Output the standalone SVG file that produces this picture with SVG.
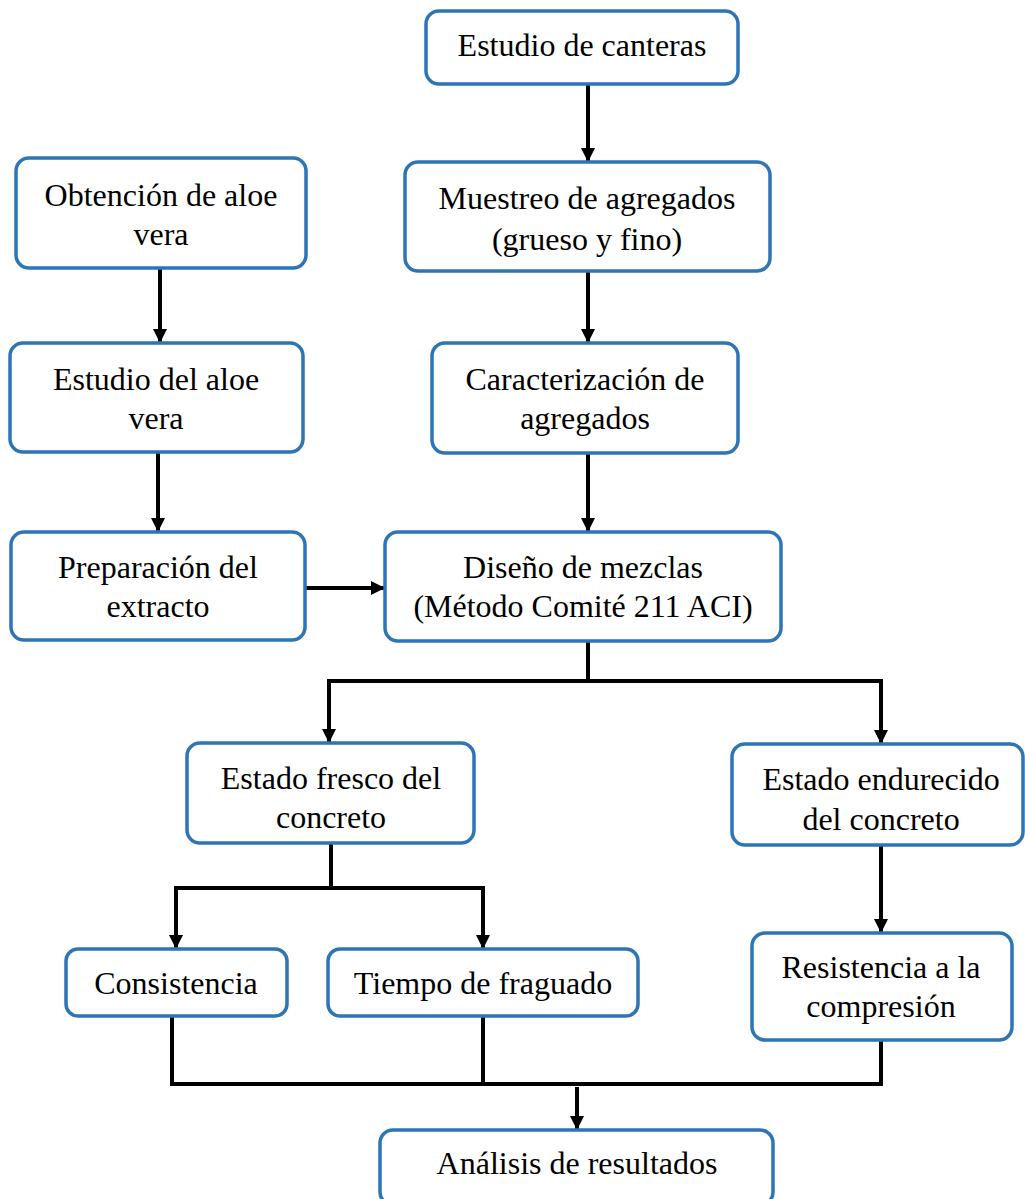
<svg xmlns="http://www.w3.org/2000/svg" width="1025" height="1199" viewBox="0 0 1025 1199">
<style>
.box{fill:#fff;stroke:#2E75B6;stroke-width:3.5}
.t{font-family:"Liberation Serif","Times New Roman",serif;font-size:32px;fill:#000;text-anchor:middle}
.c{fill:none;stroke:#000;stroke-width:4}
</style>
<defs>
<marker id="ah" markerWidth="14" markerHeight="14" refX="13" refY="7" orient="auto" markerUnits="userSpaceOnUse">
<path d="M0,0 L14,7 L0,14 Z" fill="#000"/>
</marker>
</defs>
<rect width="1025" height="1199" fill="#fff"/>
<g id="connectors">
<line class="c" x1="588" y1="84" x2="588" y2="161" marker-end="url(#ah)"/>
<line class="c" x1="588" y1="271" x2="588" y2="342" marker-end="url(#ah)"/>
<line class="c" x1="588" y1="453" x2="588" y2="531" marker-end="url(#ah)"/>
<line class="c" x1="160" y1="268" x2="160" y2="342" marker-end="url(#ah)"/>
<line class="c" x1="158" y1="452" x2="158" y2="531" marker-end="url(#ah)"/>
<line class="c" x1="305" y1="588" x2="384" y2="588" marker-end="url(#ah)"/>
<line class="c" x1="588" y1="641" x2="588" y2="681"/>
<polyline class="c" points="329,742 329,681 881,681 881,743" />
<line class="c" x1="329" y1="700" x2="329" y2="742" marker-end="url(#ah)"/>
<line class="c" x1="881" y1="700" x2="881" y2="743" marker-end="url(#ah)"/>
<line class="c" x1="331" y1="843" x2="331" y2="888"/>
<polyline class="c" points="176,948 176,888 483,888 483,948"/>
<line class="c" x1="176" y1="910" x2="176" y2="948" marker-end="url(#ah)"/>
<line class="c" x1="483" y1="910" x2="483" y2="948" marker-end="url(#ah)"/>
<line class="c" x1="881" y1="846" x2="881" y2="932" marker-end="url(#ah)"/>
<polyline class="c" points="172,1016 172,1084 881,1084 881,1040"/>
<line class="c" x1="483" y1="1016" x2="483" y2="1084"/>
<line class="c" x1="577" y1="1087" x2="577" y2="1129" marker-end="url(#ah)"/>
</g>
<g id="n1"><rect class="box" x="426" y="11" width="312" height="73" rx="13"/><text class="t" x="582" y="56">Estudio de canteras</text></g>
<g id="n2"><rect class="box" x="405" y="162" width="365" height="109" rx="13"/><text class="t" x="587" y="209">Muestreo de agregados</text><text class="t" x="587" y="250">(grueso y fino)</text></g>
<g id="n3"><rect class="box" x="16" y="158" width="290" height="110" rx="13"/><text class="t" x="161" y="206">Obtención de aloe</text><text class="t" x="161" y="245">vera</text></g>
<g id="n4"><rect class="box" x="10" y="343" width="293" height="109" rx="13"/><text class="t" x="156" y="390">Estudio del aloe</text><text class="t" x="156" y="429">vera</text></g>
<g id="n5"><rect class="box" x="432" y="343" width="306" height="110" rx="13"/><text class="t" x="585" y="390">Caracterización de</text><text class="t" x="585" y="429">agregados</text></g>
<g id="n6"><rect class="box" x="11" y="532" width="294" height="108" rx="13"/><text class="t" x="158" y="578">Preparación del</text><text class="t" x="158" y="617">extracto</text></g>
<g id="n7"><rect class="box" x="385" y="532" width="396" height="109" rx="13"/><text class="t" x="583" y="578">Diseño de mezclas</text><text class="t" x="583" y="617">(Método Comité 211 ACI)</text></g>
<g id="n8"><rect class="box" x="187" y="743" width="287" height="100" rx="13"/><text class="t" x="331" y="789">Estado fresco del</text><text class="t" x="331" y="828">concreto</text></g>
<g id="n9"><rect class="box" x="732" y="744" width="291" height="101" rx="13"/><text class="t" x="881" y="790">Estado endurecido</text><text class="t" x="881" y="830">del concreto</text></g>
<g id="n10"><rect class="box" x="66" y="949" width="221" height="67" rx="12"/><text class="t" x="176" y="994">Consistencia</text></g>
<g id="n11"><rect class="box" x="328" y="949" width="310" height="67" rx="12"/><text class="t" x="483" y="994">Tiempo de fraguado</text></g>
<g id="n12"><rect class="box" x="752" y="933" width="260" height="107" rx="13"/><text class="t" x="881" y="978">Resistencia a la</text><text class="t" x="881" y="1017">compresión</text></g>
<g id="n13"><rect class="box" x="380" y="1130" width="393" height="75" rx="13"/><text class="t" x="577" y="1174">Análisis de resultados</text></g>
</svg>
